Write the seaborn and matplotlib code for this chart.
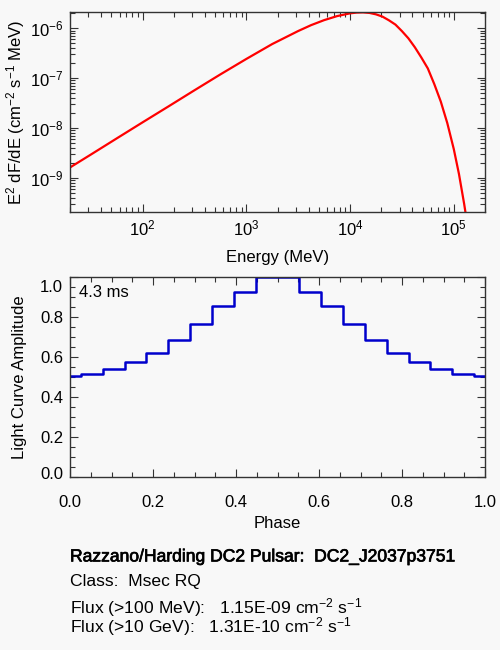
import numpy as np
import pandas as pd
import matplotlib
matplotlib.use("Agg")
import matplotlib.pyplot as plt
import seaborn as sns
from matplotlib.ticker import LogLocator, MultipleLocator, NullFormatter, FormatStrFormatter
from matplotlib.transforms import ScaledTranslation
import matplotlib.patheffects as pe

# ---- data ----
energy_mev = [20, 31.6, 56.2, 100, 178, 316, 562, 1000, 1778, 3162, 4217,
              5623, 7499, 10000, 11548, 13335, 15399, 17783, 20535, 23714,
              27384, 31623, 36517, 42170, 48697, 56234, 64938, 74989, 86596,
              100000, 112202, 125893, 134896]
e2_dfde = [1.62e-9, 2.92e-9, 6.17e-9, 1.30e-8, 2.72e-8, 5.71e-8, 1.19e-7,
           2.43e-7, 4.84e-7, 8.83e-7, 1.16e-6, 1.46e-6, 1.76e-6, 2.00e-6,
           2.07e-6, 2.09e-6, 2.04e-6, 1.91e-6, 1.72e-6, 1.45e-6, 1.19e-6,
           8.81e-7, 6.31e-7, 4.17e-7, 2.60e-7, 1.57e-7, 7.59e-8, 3.39e-8,
           1.26e-8, 3.80e-9, 1.20e-9, 3.02e-10, 1.20e-10]

phase = [0.0, 0.0526, 0.1053, 0.1579, 0.2105, 0.2632, 0.3158, 0.3684, 0.4211,
         0.4737, 0.5263, 0.5789, 0.6316, 0.6842, 0.7368, 0.7895, 0.8421,
         0.8947, 0.9474, 1.0]
amplitude = [0.504, 0.515, 0.539, 0.575, 0.621, 0.683, 0.766, 0.853, 0.924,
             1.0, 1.0, 0.924, 0.853, 0.766, 0.683, 0.621, 0.575, 0.539,
             0.515, 0.504]

phase_ticks = [0.0, 0.2, 0.4, 0.6, 0.8, 1.0]
amp_ticks = [0.0, 0.2, 0.4, 0.6, 0.8, 1.0]

period_label = "4.3 ms"
title_line = "Razzano/Harding DC2 Pulsar:  DC2_J2037p3751"
class_line = "Class:  Msec RQ"
flux100_line = "Flux (>100 MeV):   1.15E-09 cm$^{-2}$ s$^{-1}$"
flux10g_line = "Flux (>10 GeV):   1.31E-10 cm$^{-2}$ s$^{-1}$"

# ---- style ----
sns.set_theme(style="ticks")
bg = "#f8f8f8"
plt.rcParams["font.family"] = ["Liberation Sans", "DejaVu Sans"]
plt.rcParams["mathtext.fontset"] = "custom"
plt.rcParams["mathtext.rm"] = "Liberation Sans"
plt.rcParams["mathtext.it"] = "Liberation Sans:italic"
plt.rcParams["mathtext.bf"] = "Liberation Sans:bold"
plt.rcParams["font.size"] = 12
plt.rcParams["text.color"] = "black"
plt.rcParams["axes.labelcolor"] = "black"

fig = plt.figure(figsize=(5, 6.5), dpi=100, facecolor=bg)

def style_axes(ax):
    ax.set_facecolor(bg)
    for s in ax.spines.values():
        s.set_color("#333333")
        s.set_linewidth(1.0)
    ax.tick_params(which="both", direction="in", top=True, right=True,
                   colors="#333333", labelcolor="black", labelsize=12)
    ax.tick_params(which="major", length=6, width=0.8, pad=5)
    ax.tick_params(which="minor", length=3.5, width=0.8)

# ---- spectrum panel ----
ax1 = fig.add_axes([0.14, 0.6743, 0.83, 0.3068])
style_axes(ax1)
spec = pd.DataFrame({"E": energy_mev, "v": e2_dfde})
sns.lineplot(data=spec, x="E", y="v", ax=ax1, color="#ff0000", lw=1.6)
ax1.set_xscale("log")
ax1.set_yscale("log")
ax1.set_xlim(20, 2.0e5)
ax1.set_ylim(2.1e-10, 2.1e-6)
ax1.xaxis.set_minor_locator(LogLocator(base=10, subs=np.arange(2, 10)))
ax1.yaxis.set_minor_locator(LogLocator(base=10, subs=np.arange(2, 10)))
ax1.xaxis.set_minor_formatter(NullFormatter())
ax1.yaxis.set_minor_formatter(NullFormatter())
ax1.set_xlabel("Energy (MeV)", fontsize=12, labelpad=8)
ax1.set_ylabel("E$^2$ dF/dE (cm$^{-2}$ s$^{-1}$ MeV)", fontsize=12, labelpad=2)

# ---- light curve panel ----
ax2 = fig.add_axes([0.14, 0.2657, 0.83, 0.3082])
style_axes(ax2)
lc = pd.DataFrame({"phase": phase, "amp": amplitude})
sns.lineplot(data=lc, x="phase", y="amp", ax=ax2, color="#0000cc", lw=1.8,
             drawstyle="steps-mid")
ax2.set_xlim(0, 1)
ax2.set_ylim(0, 1.0)
ax2.set_xticks(phase_ticks)
ax2.set_yticks(amp_ticks)
ax2.xaxis.set_major_formatter(FormatStrFormatter("%.1f"))
ax2.yaxis.set_major_formatter(FormatStrFormatter("%.1f"))
ax2.xaxis.set_minor_locator(MultipleLocator(0.05))
ax2.yaxis.set_minor_locator(MultipleLocator(0.05))
ax2.tick_params(axis="x", which="major", pad=13)
ax2.set_xlabel("Phase", fontsize=12, labelpad=4)
ax2.set_ylabel("Light Curve Amplitude", fontsize=12, labelpad=9)
ax2.text(0.022, 0.92, period_label, transform=ax2.transAxes, fontsize=12,
         ha="left", va="center")

# end labels are pulled inside the axis range, as in the reference
yt = ax2.yaxis.get_major_ticks()
yt[-1].label1.set_transform(yt[-1].label1.get_transform()
                            + ScaledTranslation(0, -9 / 100, fig.dpi_scale_trans))
yt[0].label1.set_transform(yt[0].label1.get_transform()
                           + ScaledTranslation(0, 4.5 / 100, fig.dpi_scale_trans))

# ---- info text ----
x0 = 70 / 500
fig.text(x0, 1 - 557 / 650, title_line, fontsize=12.6, va="center", ha="left",
         path_effects=[pe.withStroke(linewidth=0.5, foreground="black")])
fig.text(x0, 1 - 581.5 / 650, class_line, fontsize=12.6, va="center", ha="left")
fig.text(x0, 1 - 617 / 650, flux100_line + "\n" + flux10g_line, fontsize=12.6,
         va="center", ha="left", linespacing=0.8)

fig.savefig("out.png", dpi=100, facecolor=bg)
